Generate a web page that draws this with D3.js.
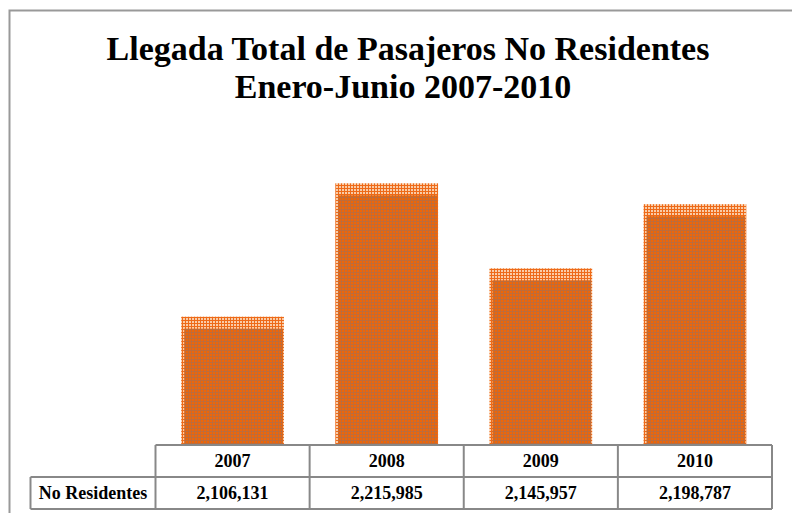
<!DOCTYPE html>
<html>
<head>
<meta charset="utf-8">
<script src="https://cdn.jsdelivr.net/npm/d3@7"></script>
<style>
  html, body { margin: 0; padding: 0; background: #fff; }
  svg { display: block; }
</style>
</head>
<body>
<svg id="chart" width="792" height="513"></svg>
<script>
// ---- data ----
const titleLines = ["Llegada Total de Pasajeros No Residentes", "Enero-Junio 2007-2010"];
const years = ["2007", "2008", "2009", "2010"];
const values = [2106131, 2215985, 2145957, 2198787];
const rowLabel = "No Residentes";
const yDomain = [2000000, 2250000];

// ---- layout ----
const W = 792, H = 513;
const FONT = "'Liberation Serif', 'Times New Roman', Times, serif";
const svg = d3.select("#chart");

// patterns
const defs = svg.append("defs");
function gridPattern(id, bg, line) {
  const p = defs.append("pattern").attr("id", id).attr("patternUnits", "userSpaceOnUse")
    .attr("width", 3).attr("height", 3);
  p.append("rect").attr("width", 3).attr("height", 3).attr("fill", line);
  p.append("rect").attr("width", 2).attr("height", 2).attr("fill", bg);
}
gridPattern("darkGrid", "#EE6608", "#BE6C3A");
gridPattern("lightGrid", "#F9CCA8", "#EE6A18");

// frame
svg.append("path").attr("d", `M9.5,${H} V10.5 H${W}`)
  .attr("fill", "none").attr("stroke", "#999").attr("stroke-width", 2);

// title
const tt = svg.append("g").attr("font-family", FONT).attr("font-weight", "bold")
  .attr("font-size", 34).attr("text-anchor", "middle").attr("fill", "#000");
tt.append("text").attr("x", 408).attr("y", 60).text(titleLines[0]);
tt.append("text").attr("x", 403).attr("y", 98).text(titleLines[1]);

// table geometry
const colX0 = 155.5, colX1 = 772;
const labelX0 = 30.5;
const rowTop = 445, rowMid = 477, rowBot = 509;

const x = d3.scaleBand().domain(years).range([colX0, colX1])
  .paddingInner(0.333).paddingOuter(0.1667);
const col = d3.scaleBand().domain(years).range([colX0, colX1]);
const y = d3.scaleLinear().domain(yDomain).range([445.5, 142]);

// bars
const depth = 12;
const bars = svg.append("g");
years.forEach((yr, i) => {
  const bx = x(yr), bw = x.bandwidth(), by = y(values[i]);
  bars.append("rect").attr("x", bx).attr("y", by).attr("width", bw)
    .attr("height", rowTop - by).attr("fill", "url(#lightGrid)");
  bars.append("rect").attr("x", bx + 3).attr("y", by + depth).attr("width", bw - 4)
    .attr("height", rowTop - by - depth).attr("fill", "url(#darkGrid)");
});

// table
const tbl = svg.append("g").attr("fill", "none").attr("stroke", "#888").attr("stroke-width", 2);
tbl.append("line").attr("x1", colX0).attr("x2", colX1).attr("y1", rowTop).attr("y2", rowTop);
tbl.append("line").attr("x1", labelX0).attr("x2", colX1).attr("y1", rowMid).attr("y2", rowMid);
tbl.append("line").attr("x1", labelX0).attr("x2", colX1).attr("y1", rowBot).attr("y2", rowBot);
tbl.append("line").attr("x1", labelX0).attr("x2", labelX0).attr("y1", rowMid).attr("y2", rowBot);
years.forEach(yr => {
  tbl.append("line").attr("x1", col(yr)).attr("x2", col(yr)).attr("y1", rowTop).attr("y2", rowBot);
});
tbl.append("line").attr("x1", colX1).attr("x2", colX1).attr("y1", rowTop).attr("y2", rowBot);

const fmt = d3.format(",");
const tg = svg.append("g").attr("font-family", FONT).attr("font-weight", "bold")
  .attr("font-size", 18).attr("text-anchor", "middle").attr("fill", "#000");
years.forEach((yr, i) => {
  const cx = col(yr) + col.bandwidth() / 2;
  tg.append("text").attr("x", cx).attr("y", (rowTop + rowMid) / 2 + 6).text(yr);
  tg.append("text").attr("x", cx).attr("y", (rowMid + rowBot) / 2 + 6).text(fmt(values[i]));
});
tg.append("text").attr("x", (labelX0 + colX0) / 2).attr("y", (rowMid + rowBot) / 2 + 6)
  .text(rowLabel);
</script>
</body>
</html>
